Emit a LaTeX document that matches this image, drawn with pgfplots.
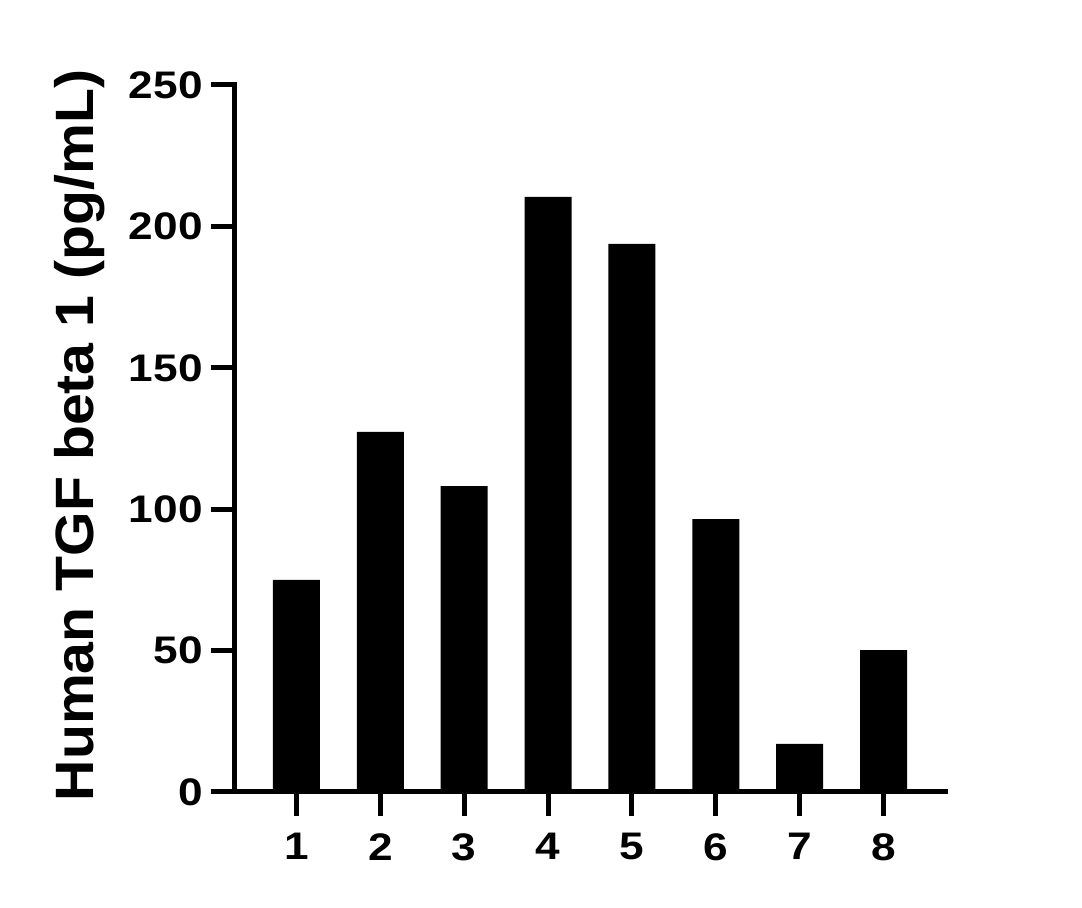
\documentclass[border=0pt]{standalone}
\usepackage{fontspec}
\setmainfont{Liberation Sans}
\newfontfamily\tickfont[FakeStretch=1.15]{Liberation Sans}
\newfontfamily\labfont[FakeStretch=1.06]{Liberation Sans}
\usepackage{pgfplots}
\pgfplotsset{compat=1.18}
\begin{document}
\begin{tikzpicture}
\begin{axis}[
  name=ax,
  scale only axis,
  width=355pt, height=353.5pt,
  xmin=0.267, xmax=8.733,
  ymin=0, ymax=250,
  axis x line*=bottom, axis y line*=left,
  axis line style={line width=2.5pt, line cap=rect},
  every tick/.style={black, line width=2.5pt},
  tick align=outside,
  major tick length=12pt,
  xtick={1,2,3,4,5,6,7,8},
  ytick={0,50,100,150,200,250},
  /pgf/number format/assume math mode=true,
  tick label style={font=\tickfont\bfseries\fontsize{19.2}{20}\selectfont},
  yticklabel style={inner sep=2pt, xshift=-2pt},
  xticklabel style={inner sep=2pt, yshift=-6.5pt},
  ylabel={Human TGF beta 1 (pg/mL)},
  ylabel style={font=\labfont\bfseries\fontsize{27}{29}\selectfont, at={(axis description cs:0,0.5)}, anchor=center, yshift=77.5pt, xshift=1.5pt},
  ybar, bar width=0.56,
  clip=false,
]
\addplot[fill=black, draw=none] coordinates {
 (1,75.0) (2,127.3) (3,108.2) (4,210.4) (5,193.8) (6,96.5) (7,17.0) (8,50.2)
};
\coordinate (o) at (rel axis cs:0,0);
\end{axis}
\pgfresetboundingbox
\path[use as bounding box] (o) ++(-117.5pt,-58pt) rectangle ++(541pt,454pt);
\end{tikzpicture}
\end{document}
